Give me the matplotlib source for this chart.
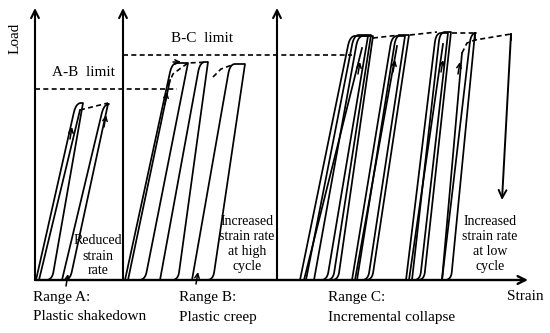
import matplotlib.pyplot as plt
import numpy as np

plt.rcParams['font.family'] = ['Liberation Serif', 'DejaVu Serif']

# 循环加载回线: 左下起点, 右下拐点, 左上拐点, 右上拐点, 峰值荷载
loop_x0 = [1, 27, 90, 125, 157, 265, 271, 279, 317, 322, 371, 377, 407]
loop_x1 = [17, 35, 110, 143, 178, 292, 298, 303, 333, 337, 385, 389, 416]
loop_xtl = [41, 69, 137, 165, 195, 315, 319, 323, 357, 361, 401, 405, 436]
loop_xtr = [48, 73, 153, 173, 210, 333, 336, 338, 370, 374, 413, 416, 440]
loop_peak = [177, 176, 217, 218, 216, 244, 245, 244, 244, 245, 247, 248, 247]

# 再加载线: 起点应变, 终点应变, 终点荷载
reload_x0 = [4, 93, 269, 320, 374, 407]
reload_x1 = [45, 135, 327, 362, 408, 427]
reload_y1 = [170, 200, 232, 234, 236, 227]

# 箭头 (应变, 荷载)
arrow_x = [37, 71, 33, 132, 163, 325, 360, 408, 425]
arrow_y = [153, 165, 6, 188, 8, 218, 220, 220, 218]

# 虚线
dash_lines = [
    [(45, 170), (73, 177)],
    [(133, 195), (138, 206), (146, 212), (153, 217), (173, 218)],
    [(178, 203), (186, 211), (197, 215)],
    [(338, 242), (365, 245)],
    [(375, 245), (402, 248)],
    [(417, 247), (440, 247)],
    [(427, 227), (432, 237), (440, 240), (476, 246)],
]
collapse_x = [476, 467]
collapse_y = [246, 80]

axis_x = [0, 88, 242]
axis_top = 272
strain_end = 493
ab_limit, ab_end = 191, 142
bc_limit, bc_end = 225, 317


def bez(p0, p1, p2, n=12):
    t = np.linspace(0, 1, n)[:, None]
    return (1 - t) ** 2 * np.array(p0) + 2 * (1 - t) * t * np.array(p1) + t ** 2 * np.array(p2)


def loop_path(x0, x1, xtl, xtr, L, rc=10, rb=8):
    k = (xtl - x0) / L
    a = (x0 + k * (L - rc), L - rc)
    c1 = bez(a, (xtl, L), (xtl + 5, L))
    kr = (xtr - x1) / L
    b = (x1 + kr * rb, rb)
    c2 = bez(b, (x1, 0), (x1 - 6, 0))
    pts = np.vstack([[x0, 0], c1, [xtr, L], c2, [x0, 0]])
    return pts[:, 0], pts[:, 1]


fig = plt.figure(figsize=(5.5, 3.33), dpi=100)
ax = fig.add_axes([0, 0, 1, 1])
ax.set_xlim(-35, 515)
ax.set_ylim(-53, 280)
ax.axis('off')

lw = 1.25
# 坐标轴
for xa in axis_x:
    ax.annotate('', xy=(xa, axis_top), xytext=(xa, 0),
                arrowprops=dict(arrowstyle='->', lw=1.5, color='black',
                                mutation_scale=14, shrinkA=0, shrinkB=0))
ax.annotate('', xy=(strain_end, 0), xytext=(0, 0),
            arrowprops=dict(arrowstyle='->', lw=1.7, color='black',
                            mutation_scale=14, shrinkA=0, shrinkB=0))

# 界限线
ax.plot([0, ab_end], [ab_limit, ab_limit], color='black', lw=1.2, ls=(0, (3, 2)))
ax.plot([axis_x[1], bc_end], [bc_limit, bc_limit], color='black', lw=1.2, ls=(0, (3, 2)))

# 回线
for i in range(len(loop_x0)):
    x, y = loop_path(loop_x0[i], loop_x1[i], loop_xtl[i], loop_xtr[i], loop_peak[i])
    ax.plot(x, y, color='black', lw=lw, solid_joinstyle='round')

for i in range(len(reload_x0)):
    ax.plot([reload_x0[i], reload_x1[i]], [0, reload_y1[i]], color='black', lw=lw)

for pts in dash_lines:
    p = np.array(pts)
    ax.plot(p[:, 0], p[:, 1], color='black', lw=1.2, ls=(0, (3, 2)))

# 箭头
for xa, ya in zip(arrow_x, arrow_y):
    ax.annotate('', xy=(xa, ya), xytext=(xa - 2, ya - 12),
                arrowprops=dict(arrowstyle='->', lw=1.1, color='black',
                                mutation_scale=8, shrinkA=0, shrinkB=0))
ax.annotate('', xy=(146, 218), xytext=(138, 218),
            arrowprops=dict(arrowstyle='->', lw=1.1, color='black',
                            mutation_scale=8, shrinkA=0, shrinkB=0))

ax.plot([collapse_x[0], collapse_x[0]], [collapse_y[0], collapse_y[0] - 6], color='black', lw=lw)
ax.annotate('', xy=(collapse_x[1], collapse_y[1]), xytext=(collapse_x[0], collapse_y[0]),
            arrowprops=dict(arrowstyle='->', lw=1.4, color='black',
                            mutation_scale=14, shrinkA=0, shrinkB=0))
ax.plot([440, 440], [247, 240], color='black', lw=lw)

# 文字
ax.text(-20, 242, 'Load', rotation=90, ha='center', va='center', fontsize=11)
ax.text(48, 207, 'A-B  limit', ha='center', va='center', fontsize=11)
ax.text(167, 242, 'B-C  limit', ha='center', va='center', fontsize=11)
ax.text(63, 24, 'Reduced\nstrain\nrate', ha='center', va='center', fontsize=10, linespacing=1.2)
ax.text(212, 36, 'Increased\nstrain rate\nat high\ncycle', ha='center', va='center',
        fontsize=10, linespacing=1.18)
ax.text(455, 36, 'Increased\nstrain rate\nat low\ncycle', ha='center', va='center',
        fontsize=10, linespacing=1.18)
ax.text(-2, -17, 'Range A:', ha='left', va='center', fontsize=11)
ax.text(-2, -37, 'Plastic shakedown', ha='left', va='center', fontsize=11)
ax.text(144, -17, 'Range B:', ha='left', va='center', fontsize=11)
ax.text(144, -37, 'Plastic creep', ha='left', va='center', fontsize=11)
ax.text(293, -17, 'Range C:', ha='left', va='center', fontsize=11)
ax.text(293, -37, 'Incremental collapse', ha='left', va='center', fontsize=11)
ax.text(472, -17, 'Strain', ha='left', va='center', fontsize=11)

fig.savefig('out.png', dpi=100)
